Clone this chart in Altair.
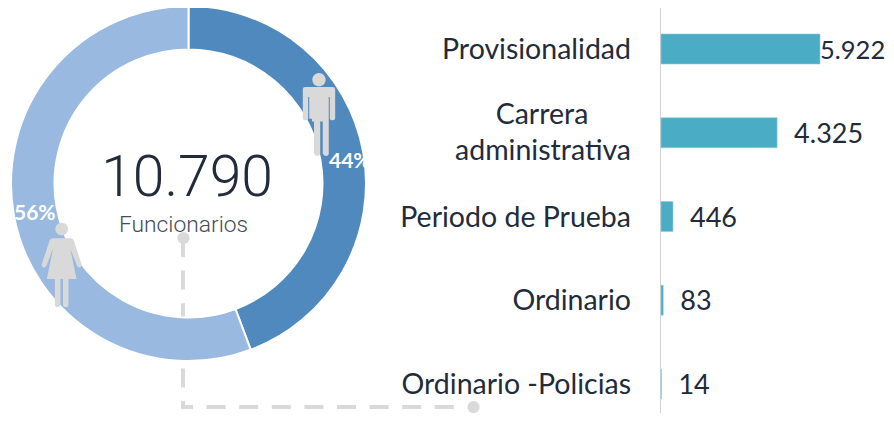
import altair as alt
import pandas as pd

segments = ["Hombres", "Mujeres"]
shares = [44.3, 55.7]
share_labels = ["44%", "56%"]
seg_colors = ["#5089BD", "#99B9E0"]
cats = ["Provisionalidad", "Carrera administrativa", "Periodo de Prueba", "Ordinario", "Ordinario -Policias"]
values = [5922, 4325, 446, 83, 14]
val_labels = ["5.922", "4.325", "446", "83", "14"]
total_label = "10.790"
total_caption = "Funcionarios"
FONT = "Lato"
INK = "#222B3A"
GREY = "#D9D9D9"

MAN = ("M-.16 -.84A.16 .16 0 1 1 .16 -.84A.16 .16 0 1 1 -.16 -.84Z"
       "M-.33 -.66L.33 -.66Q.39 -.66 .39 -.6L.39 .09Q.39 .14 .33 .14Q.26 .14 .26 .09L.26 -.42L.235 -.42"
       "L.235 .94Q.235 1 .17 1Q.1 1 .09 .94L.09 .17L.03 .17L.03 .94Q.02 1 -.04 1Q-.11 1 -.12 .94"
       "L-.12 .17L-.17 .17L-.17 .1L-.235 .1L-.235 -.42L-.26 -.42L-.26 .09Q-.26 .14 -.33 .14Q-.39 .14 -.39 .09L-.39 -.6Q-.39 -.66 -.33 -.66Z")
WOMAN = ("M-.15 -.835A.15 .15 0 1 1 .15 -.835A.15 .15 0 1 1 -.15 -.835Z"
         "M-.2 -.62L.2 -.62Q.27 -.62 .29 -.55L.47 .0Q.48 .05 .43 .07Q.38 .08 .36 .03L.2 -.38L.35 .34L.16 .34"
         "L.16 .94Q.16 1 .1 1Q.03 1 .03 .94L.03 .34L-.03 .34L-.03 .94Q-.03 1 -.1 1Q-.16 1 -.16 .94L-.16 .34L-.35 .34"
         "L-.2 -.38L-.36 .03Q-.38 .08 -.43 .07Q-.48 .05 -.47 .0L-.29 -.55Q-.27 -.62 -.2 -.62Z")

one = pd.DataFrame({"k": [0]})
seg = pd.DataFrame({"seg": segments, "share": shares, "label": share_labels, "i": [0, 1]})
bars = pd.DataFrame({"cat": cats, "value": values, "label": val_labels})

CX, CY = 180.5, 175.5
x_scale = alt.Scale(domain=[0, 5922], range=[653, 812])
y_scale = alt.Scale(domain=cats, range=[-0.875, 417.875], paddingInner=0, paddingOuter=0)
X = alt.X("value:Q", scale=x_scale, axis=None)
Y = alt.Y("cat:N", scale=y_scale, axis=None, sort=cats)

dash = [19, 13.6]
conn_v = alt.Chart(one).mark_rule(color=GREY, strokeWidth=4, strokeDash=dash).encode(
    x=alt.value(175), y=alt.value(230), y2=alt.value(399))
conn_h = alt.Chart(one).mark_rule(color=GREY, strokeWidth=4, strokeDash=dash, strokeDashOffset=7).encode(
    x=alt.value(173), x2=alt.value(458), y=alt.value(399))
dot1 = alt.Chart(one).mark_point(shape="circle", filled=True, opacity=1, color=GREY, size=150).encode(
    x=alt.value(175.5), y=alt.value(230))
dot2 = alt.Chart(one).mark_point(shape="circle", filled=True, opacity=1, color=GREY, size=150).encode(
    x=alt.value(465.5), y=alt.value(399))

ring = alt.Chart(seg).mark_arc(outerRadius=177.5, innerRadius=134, stroke="white", strokeWidth=2).encode(
    theta=alt.Theta("share:Q", stack=True, scale=alt.Scale(domain=[0, 100])),
    order=alt.Order("i:Q"),
    color=alt.Color("seg:N", scale=alt.Scale(domain=segments, range=seg_colors), legend=None),
    x=alt.value(CX), y=alt.value(CY))

man = alt.Chart(one).mark_point(shape=MAN, filled=True, opacity=1, color=GREY, size=6889, strokeWidth=0).encode(
    x=alt.value(311), y=alt.value(106.5))
woman = alt.Chart(one).mark_point(shape=WOMAN, filled=True, opacity=1, color=GREY, size=7225, strokeWidth=0).encode(
    x=alt.value(53.7), y=alt.value(256.5))

pct_style = dict(font=FONT, fontSize=21, fontWeight="bold", color="white", align="left", baseline="middle")
pct_m = alt.Chart(seg[seg.i == 0]).mark_text(**pct_style).encode(x=alt.value(321), y=alt.value(154), text="label:N")
pct_f = alt.Chart(seg[seg.i == 1]).mark_text(**pct_style).encode(x=alt.value(6), y=alt.value(206), text="label:N")

big = alt.Chart(pd.DataFrame({"t": [total_label]})).mark_text(
    font="Roboto", fontSize=57, fontWeight=300, color=INK, align="center", baseline="middle"
).encode(x=alt.value(179), y=alt.value(171), text="t:N")
cap = alt.Chart(pd.DataFrame({"t": [total_caption]})).mark_text(
    font="Roboto", fontSize=22.8, fontWeight=300, color="#444B58", align="center", baseline="middle"
).encode(x=alt.value(175.5), y=alt.value(217), text="t:N")

rule = alt.Chart(one).mark_rule(color="#D4D4D4", strokeWidth=1).encode(
    x=alt.value(652.5), y=alt.value(-1), y2=alt.value(413))
bar = alt.Chart(bars).mark_bar(color="#4BACC6", height=30, stroke="#8FCBDC", strokeWidth=0.6).encode(x=X, y=Y)

cat_style = dict(font=FONT, fontSize=28.5, color=INK, baseline="middle")
plain = bars[bars.cat != cats[1]]
lab_plain = alt.Chart(plain).mark_text(align="right", dy=1, **cat_style).encode(
    x=alt.value(623), y=Y, text="cat:N")
carrera = cats[1].split(" ")
lab_a = alt.Chart(pd.DataFrame({"cat": [cats[1]], "t": [carrera[0]]})).mark_text(
    align="center", dy=-18, **cat_style).encode(x=alt.value(534), y=Y, text="t:N")
lab_b = alt.Chart(pd.DataFrame({"cat": [cats[1]], "t": [carrera[1]]})).mark_text(
    align="right", dy=18, **cat_style).encode(x=alt.value(623), y=Y, text="t:N")

val_style = dict(font=FONT, color=INK, baseline="middle", align="left")
val_first = alt.Chart(bars.iloc[[0]]).mark_text(dx=0, dy=2, fontSize=25.5, **val_style).encode(x=X, y=Y, text="label:N")
val_rest = alt.Chart(bars.iloc[1:]).mark_text(dx=17, dy=2, fontSize=27, **val_style).encode(x=X, y=Y, text="label:N")

chart = alt.layer(conn_v, conn_h, dot1, dot2, ring, man, woman, pct_m, pct_f, big, cap, rule, bar,
                  lab_plain, lab_a, lab_b, val_first, val_rest).properties(
    width=878, height=405, padding=0, autosize=alt.AutoSizeParams(type="none")
).configure_view(stroke=None)

chart.save("out.html", embed_options={"renderer": "svg", "actions": False})
